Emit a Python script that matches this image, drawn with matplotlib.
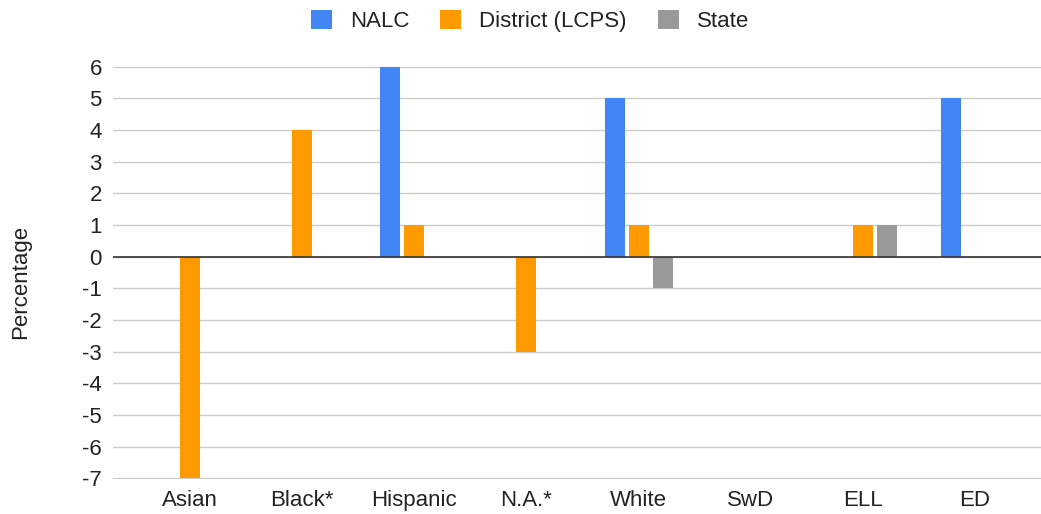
import matplotlib.pyplot as plt
import numpy as np

categories = ['Asian', 'Black*', 'Hispanic', 'N.A.*', 'White', 'SwD', 'ELL', 'ED']
nalc = [0, 0, 6, 0, 5, 0, 0, 5]
district = [-7, 4, 1, -3, 1, 0, 1, 0]
state = [0, 0, 0, 0, -1, 0, 1, 0]
series_names = ['NALC', 'District (LCPS)', 'State']
colors = ['#4285F4', '#FF9900', '#999999']

plt.rcParams['font.family'] = ['Liberation Sans', 'DejaVu Sans']
plt.rcParams['axes.unicode_minus'] = False

fig = plt.figure(figsize=(10.41, 5.14), dpi=100)
ax = fig.add_axes([113 / 1041, 35 / 514, 928 / 1041, 413 / 514])

x = np.arange(len(categories))
width = 0.178
step = 0.214
for i, (vals, name, col) in enumerate(zip([nalc, district, state], series_names, colors)):
    ax.bar(x + (i - 1) * step, vals, width, color=col, label=name, zorder=3)

ax.set_xlim(-0.687, 7.589)
ax.set_ylim(-7.02, 6.02)
ax.set_yticks(range(-7, 7))
ax.grid(axis='y', color='#cccccc', linewidth=1, zorder=0)
ax.axhline(0, color='#333333', linewidth=1.2, zorder=4)
ax.set_xticks(x)
ax.set_xticklabels(categories)
ax.tick_params(length=0, labelsize=16, labelcolor='#222222')
ax.tick_params(axis='x', pad=8)
ax.tick_params(axis='y', pad=8)
for s in ax.spines.values():
    s.set_visible(False)

fig.text(21 / 1041, 1 - 282 / 514, 'Percentage', rotation=90, ha='center', va='center',
         fontsize=16, color='#222222')

fig.legend(loc='center', bbox_to_anchor=(0.509, 1 - 21 / 514), ncol=3, frameon=False,
           fontsize=16, handlelength=0.95, handleheight=0.95, columnspacing=1.4,
           handletextpad=0.8, labelcolor='#222222')

fig.savefig('out.png', dpi=100)
